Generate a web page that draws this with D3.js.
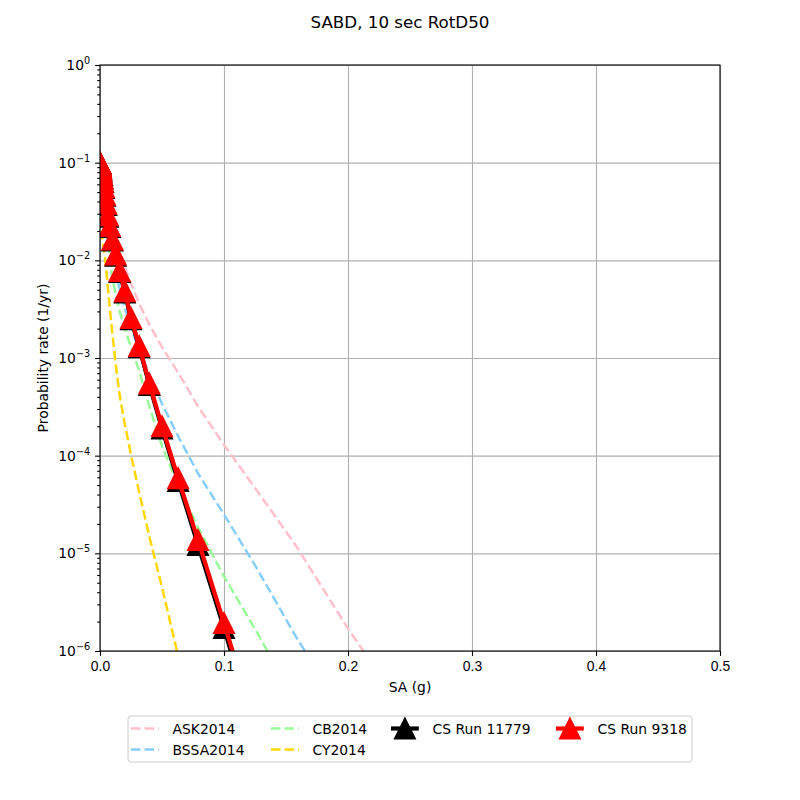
<!DOCTYPE html>
<html>
<head>
<meta charset="utf-8">
<script src="https://cdn.jsdelivr.net/npm/d3@7"></script>
<style>
    body { margin: 0; background: #fff; }
    svg { font-family: "DejaVu Sans", sans-serif; }
    .grid line { stroke: #b0b0b0; stroke-width: 1.1; }
    .grid path { display: none; }
    .axis path { display: none; }
    .axis line { stroke: #000; stroke-width: 1.1; }
    .axis text { font-size: 13.9px; fill: #000; }
</style>
</head>
<body>
<div id="chart"></div>
<script>
// SA levels (g) shared by every curve
const saLevels = [0.0001, 0.00013, 0.00016, 0.0002, 0.00025, 0.00032, 0.0004, 0.0005, 0.00063, 0.00079,
    0.001, 0.00126, 0.00158, 0.002, 0.0025, 0.00316, 0.00398, 0.005, 0.0063, 0.0079,
    0.01, 0.0126, 0.0158, 0.02, 0.025, 0.0316, 0.0398, 0.05, 0.063, 0.079,
    0.1, 0.126, 0.158, 0.2, 0.25];

// GMPE hazard curves (1/yr)
const ask2014 = [1.0e-1, 1.0e-1, 9.8e-2, 9.8e-2, 9.5e-2, 9.5e-2, 9.3e-2, 9.1e-2, 8.9e-2, 8.7e-2,
    8.5e-2, 8.1e-2, 7.8e-2, 7.2e-2, 6.6e-2, 5.9e-2, 5.0e-2, 4.0e-2, 3.2e-2, 2.6e-2,
    2.0e-2, 1.6e-2, 1.17e-2, 8.5e-3, 5.8e-3, 3.6e-3, 2.2e-3, 1.29e-3, 7.1e-4, 3.2e-4,
    1.29e-4, 4.5e-5, 1.2e-5, 1.7e-6, 2.0e-7];
const bssa2014 = [1.0e-1, 1.0e-1, 9.8e-2, 9.8e-2, 9.5e-2, 9.5e-2, 9.3e-2, 9.1e-2, 8.9e-2, 8.7e-2,
    8.3e-2, 7.9e-2, 7.4e-2, 6.8e-2, 6.0e-2, 5.1e-2, 4.2e-2, 3.2e-2, 2.4e-2, 1.74e-2,
    1.17e-2, 7.9e-3, 5.1e-3, 3.3e-3, 2.0e-3, 1.23e-3, 6.8e-4, 3.4e-4, 1.58e-4, 6.6e-5,
    2.5e-5, 7.2e-6, 1.4e-6, 2.0e-7];
const cb2014 = [1.0e-1, 1.0e-1, 9.8e-2, 9.7e-2, 9.5e-2, 9.3e-2, 9.1e-2, 8.8e-2, 8.5e-2, 8.1e-2,
    7.6e-2, 7.0e-2, 6.3e-2, 5.5e-2, 4.6e-2, 3.7e-2, 2.9e-2, 2.2e-2, 1.58e-2, 1.0e-2,
    6.6e-3, 4.5e-3, 3.0e-3, 2.0e-3, 1.29e-3, 7.4e-4, 3.2e-4, 1.26e-4, 5.0e-5, 1.85e-5,
    5.8e-6, 1.6e-6, 3.0e-7];
const cy2014 = [1.0e-1, 9.5e-2, 9.1e-2, 8.5e-2, 7.9e-2, 7.2e-2, 6.5e-2, 5.6e-2, 4.7e-2, 3.8e-2,
    3.0e-2, 2.4e-2, 1.95e-2, 1.62e-2, 1.41e-2, 1.23e-2, 1.07e-2, 8.1e-3, 5.4e-3, 3.2e-3,
    1.78e-3, 8.7e-4, 4.2e-4, 2.1e-4, 1.02e-4, 4.2e-5, 1.48e-5, 4.5e-6, 8.9e-7];

// CyberShake runs
const csRun11779 = [9.9e-2, 9.9e-2, 9.8e-2, 9.8e-2, 9.7e-2, 9.6e-2, 9.4e-2, 9.2e-2, 9.0e-2, 8.7e-2,
    8.4e-2, 8.0e-2, 7.5e-2, 6.9e-2, 6.3e-2, 5.5e-2, 4.6e-2, 3.7e-2, 2.8e-2, 2.2e-2,
    1.6e-2, 1.12e-2, 7.6e-3, 4.7e-3, 2.5e-3, 1.29e-3, 5.3e-4, 1.9e-4, 5.5e-5, 1.22e-5,
    1.72e-6, 1.3e-7];
const csRun9318 = [1.0e-1, 1.0e-1, 9.9e-2, 9.9e-2, 9.8e-2, 9.7e-2, 9.5e-2, 9.3e-2, 9.1e-2, 8.8e-2,
    8.5e-2, 8.1e-2, 7.6e-2, 7.0e-2, 6.4e-2, 5.6e-2, 4.7e-2, 3.8e-2, 2.9e-2, 2.25e-2,
    1.64e-2, 1.15e-2, 7.8e-3, 4.85e-3, 2.57e-3, 1.33e-3, 5.5e-4, 2.0e-4, 5.9e-5, 1.37e-5,
    1.94e-6, 1.6e-7];

const xTicks = [0.0, 0.1, 0.2, 0.3, 0.4, 0.5];
const yExponents = [0, -1, -2, -3, -4, -5, -6];

const series = [
    { name: "ASK2014", values: ask2014, color: "#ffc0cb", dashed: true },
    { name: "BSSA2014", values: bssa2014, color: "#87cefa", dashed: true },
    { name: "CB2014", values: cb2014, color: "#98fb98", dashed: true },
    { name: "CY2014", values: cy2014, color: "#ffd700", dashed: true },
    { name: "CS Run 11779", values: csRun11779, color: "#000000", dashed: false },
    { name: "CS Run 9318", values: csRun9318, color: "#ff0000", dashed: false }
];

const margin = { top: 65, right: 80, bottom: 149, left: 100 };
const width = 800 - margin.left - margin.right;
const height = 800 - margin.top - margin.bottom;

const svg = d3.select("#chart").append("svg")
    .attr("width", 800)
    .attr("height", 800);

const g = svg.append("g")
    .attr("transform", `translate(${margin.left},${margin.top})`);

const x = d3.scaleLinear().domain([0, 0.5]).range([0, width]);
const y = d3.scaleLog().domain([1e-6, 1]).range([height, 0]);

const majorY = yExponents.map(e => Math.pow(10, e));
const minorY = [];
for (let e = -6; e < 0; e++) {
    for (let m = 2; m <= 9; m++) minorY.push(m * Math.pow(10, e));
}

// grid
g.append("g").attr("class", "grid")
    .attr("transform", `translate(0,${height})`)
    .call(d3.axisBottom(x).tickValues(xTicks).tickSize(-height).tickFormat(""));
g.append("g").attr("class", "grid")
    .call(d3.axisLeft(y).tickValues(majorY).tickSize(-width).tickFormat(""));

// clip to plot area
svg.append("defs").append("clipPath").attr("id", "plotClip")
    .append("rect").attr("width", width).attr("height", height);

const plot = g.append("g").attr("clip-path", "url(#plotClip)");

const line = d3.line()
    .x(d => x(d[0]))
    .y(d => y(d[1]));

// matplotlib '^' marker: apex up, width = height = s
const triPath = (s) => {
    const h = s / 2;
    return `M0,${-h}L${h},${h}L${-h},${h}Z`;
};

series.forEach(s => {
    const pts = s.values.map((v, i) => [saLevels[i], v]);
    plot.append("path")
        .datum(pts)
        .attr("fill", "none")
        .attr("stroke", s.color)
        .attr("stroke-width", s.dashed ? 2.5 : 4.2)
        .attr("stroke-dasharray", s.dashed ? "9.5,4" : null)
        .attr("d", line);
    if (!s.dashed) {
        plot.selectAll(null)
            .data(pts)
            .enter()
            .append("path")
            .attr("transform", d => `translate(${x(d[0])},${y(d[1])})`)
            .attr("d", triPath(20.8))
            .attr("fill", s.color)
            .attr("stroke", s.color)
            .attr("stroke-width", 1.4);
    }
});

// axes
g.append("g").attr("class", "axis")
    .attr("transform", `translate(0,${height})`)
    .call(d3.axisBottom(x).tickValues(xTicks).tickSize(4.9).tickPadding(4.9).tickFormat(d3.format(".1f")));

g.append("g").attr("class", "axis")
    .call(d3.axisLeft(y).tickValues(majorY).tickSize(4.9).tickFormat(""));
g.append("g").attr("class", "axis")
    .call(d3.axisLeft(y).tickValues(minorY).tickSize(2.8).tickFormat(""));

// y tick labels as 10^n
yExponents.forEach(e => {
    const t = g.append("text")
        .attr("x", -9.8)
        .attr("y", y(Math.pow(10, e)) + 5)
        .attr("text-anchor", "end")
        .style("font-size", "13.9px");
    t.append("tspan").text("10");
    t.append("tspan")
        .attr("dy", -6)
        .style("font-size", "9.7px")
        .text(e === 0 ? "0" : "\u2212" + Math.abs(e));
});

// spines
g.append("rect")
    .attr("width", width)
    .attr("height", height)
    .attr("fill", "none")
    .attr("stroke", "#000")
    .attr("stroke-width", 1.1);

// labels
svg.append("text")
    .attr("x", 400).attr("y", 28)
    .attr("text-anchor", "middle")
    .style("font-size", "16.7px")
    .text("SABD, 10 sec RotD50");

svg.append("text")
    .attr("x", margin.left + width / 2).attr("y", 692)
    .attr("text-anchor", "middle")
    .style("font-size", "13.9px")
    .text("SA (g)");

svg.append("text")
    .attr("transform", `translate(48,${margin.top + height / 2}) rotate(-90)`)
    .attr("text-anchor", "middle")
    .style("font-size", "13.9px")
    .text("Probability rate (1/yr)");

// legend
const legend = svg.append("g");
legend.append("rect")
    .attr("x", 128).attr("y", 716)
    .attr("width", 564).attr("height", 46)
    .attr("rx", 3)
    .attr("fill", "#fff").attr("fill-opacity", 0.8)
    .attr("stroke", "#cccccc").attr("stroke-width", 1);

const legendPos = [
    { x: 131, y: 728.5 },
    { x: 131, y: 749.5 },
    { x: 271, y: 728.5 },
    { x: 271, y: 749.5 },
    { x: 391, y: 728.5 },
    { x: 556, y: 728.5 }
];

series.forEach((s, i) => {
    const p = legendPos[i];
    const item = legend.append("g").attr("transform", `translate(${p.x},${p.y})`);
    item.append("line")
        .attr("x1", 0).attr("x2", 27.8)
        .attr("stroke", s.color)
        .attr("stroke-width", s.dashed ? 2.5 : 4.2)
        .attr("stroke-dasharray", s.dashed ? "9.5,4" : null);
    if (!s.dashed) {
        item.append("path")
            .attr("transform", "translate(13.9,0)")
            .attr("d", triPath(20.8))
            .attr("fill", s.color)
            .attr("stroke", s.color)
            .attr("stroke-width", 1.4);
    }
    item.append("text")
        .attr("x", 41.5)
        .attr("y", 5)
        .style("font-size", "13.9px")
        .text(s.name);
});
</script>
</body>
</html>
